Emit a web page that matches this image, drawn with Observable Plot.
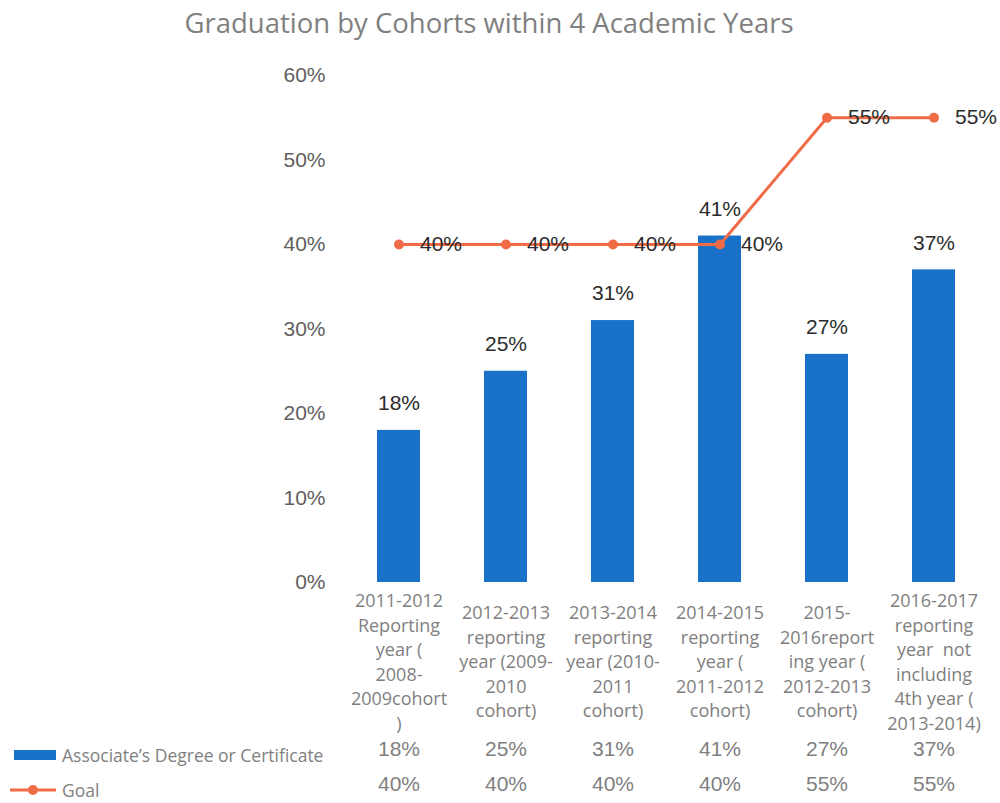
<!DOCTYPE html>
<html>
<head>
<meta charset="utf-8">
<script src="https://cdn.jsdelivr.net/npm/d3@7"></script>
<script src="https://cdn.jsdelivr.net/npm/@observablehq/plot@0.6"></script>
<style>
  html, body { margin: 0; padding: 0; background: #fff; }
  #title { height: 48px; line-height: 46px; text-align: center; font-family: "Open Sans", sans-serif; font-size: 27.5px; color: #808080; width: 978px; white-space: nowrap; }
  #chart svg { display: block; }
</style>
</head>
<body>
<div id="title">Graduation by Cohorts within 4 Academic Years</div>
<div id="chart"></div>
<script>
const categories = [
  "2011-2012\nReporting\nyear (\n2008-\n2009cohort\n)",
  "2012-2013\nreporting\nyear (2009-\n2010\ncohort)",
  "2013-2014\nreporting\nyear (2010-\n2011\ncohort)",
  "2014-2015\nreporting\nyear (\n2011-2012\ncohort)",
  "2015-\n2016report\ning year (\n2012-2013\ncohort)",
  "2016-2017\nreporting\nyear  not\nincluding\n4th year (\n2013-2014)"
];
const degreeValues = [0.18, 0.25, 0.31, 0.41, 0.27, 0.37];
const goalValues = [0.40, 0.40, 0.40, 0.40, 0.55, 0.55];
const seriesNames = ["Associate\u2019s Degree or Certificate", "Goal"];
const yTicks = [0, 0.1, 0.2, 0.3, 0.4, 0.5, 0.6];

const barColor = "#1a72c8";
const goalColor = "#f06c47";

const degree = categories.map((c, i) => ({cat: c, value: degreeValues[i]}));
const goal = categories.map((c, i) => ({cat: c, value: goalValues[i]}));
const pct = d3.format(".0%");

function legend() {
  const g = d3.create("svg:g").attr("text-anchor", "start");
  g.append("rect").attr("x", 14).attr("y", 702).attr("width", 42).attr("height", 10).attr("fill", barColor);
  g.append("text").attr("x", 62).attr("y", 708).attr("dy", "0.35em").attr("text-anchor", "start")
    .attr("font-family", "Open Sans, sans-serif").attr("font-size", 17.5).attr("fill", "#7f7f7f").text(seriesNames[0]);
  g.append("line").attr("x1", 10).attr("x2", 56).attr("y1", 742).attr("y2", 742).attr("stroke", goalColor).attr("stroke-width", 3);
  g.append("circle").attr("cx", 33).attr("cy", 742).attr("r", 5).attr("fill", goalColor);
  g.append("text").attr("x", 62).attr("y", 743).attr("dy", "0.35em").attr("text-anchor", "start")
    .attr("font-family", "Open Sans, sans-serif").attr("font-size", 17.5).attr("fill", "#7f7f7f").text(seriesNames[1]);
  return g.node();
}

const chart = Plot.plot({
  width: 1000,
  height: 755,
  marginLeft: 343,
  marginRight: 12,
  marginTop: 27,
  marginBottom: 221,
  style: {fontFamily: "Liberation Sans, Arial, sans-serif", background: "#fff"},
  x: {domain: categories, paddingInner: 0.6, paddingOuter: 0.3, axis: null},
  y: {domain: [0, 0.6], axis: null},
  marks: [
    Plot.axisY(yTicks, {tickFormat: pct, tickSize: 0, tickPadding: 18, fontSize: 21, fill: "#606060", label: null}),
    Plot.barY(degree, {x: "cat", y: "value", fill: barColor}),
    Plot.text(degree, {x: "cat", y: "value", text: d => pct(d.value), dy: -27, fontSize: 21, fill: "#2b2b2b"}),
    Plot.line(goal, {x: "cat", y: "value", stroke: goalColor, strokeWidth: 3}),
    Plot.dot(goal, {x: "cat", y: "value", fill: goalColor, r: 5}),
    Plot.text(goal, {x: "cat", y: "value", text: d => pct(d.value), dx: 21, textAnchor: "start", fontSize: 21, fill: "#2b2b2b"}),
    Plot.text(categories, {x: d => d, text: d => d, frameAnchor: "bottom", dy: 78, lineAnchor: "middle", lineHeight: 1.36, fontSize: 18, fill: "#7f7f7f", fontFamily: "Open Sans, sans-serif"}),
    Plot.text(degree, {x: "cat", text: d => pct(d.value), frameAnchor: "bottom", dy: 173, fontSize: 21, fill: "#808080"}),
    Plot.text(goal, {x: "cat", text: d => pct(d.value), frameAnchor: "bottom", dy: 208, fontSize: 21, fill: "#808080"}),
    legend
  ]
});
document.getElementById("chart").appendChild(chart);
</script>
</body>
</html>
